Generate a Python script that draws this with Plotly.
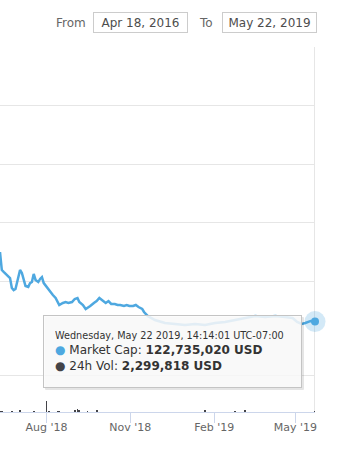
import datetime as dt
import plotly.graph_objects as go

# ---------------- data ----------------
dates = [
    "2018-06-11", "2018-06-12", "2018-06-13", "2018-06-15", "2018-06-17", "2018-06-20",
    "2018-06-22", "2018-06-24", "2018-06-26", "2018-06-28", "2018-07-01", "2018-07-03",
    "2018-07-05", "2018-07-07", "2018-07-09", "2018-07-12", "2018-07-14", "2018-07-16",
    "2018-07-18", "2018-07-20", "2018-07-23", "2018-07-25", "2018-07-27", "2018-07-29",
    "2018-08-01", "2018-08-04", "2018-08-08", "2018-08-11", "2018-08-13", "2018-08-15",
    "2018-08-19", "2018-08-22", "2018-08-25", "2018-08-29", "2018-09-01", "2018-09-04",
    "2018-09-06", "2018-09-10", "2018-09-13", "2018-09-15", "2018-09-18", "2018-09-22",
    "2018-09-25", "2018-09-28", "2018-10-02", "2018-10-05", "2018-10-08", "2018-10-11",
    "2018-10-15", "2018-10-18", "2018-10-21", "2018-10-25", "2018-10-28", "2018-10-31",
    "2018-11-04", "2018-11-07", "2018-11-10", "2018-11-14", "2018-11-16", "2018-11-18",
    "2018-11-20", "2018-11-28", "2018-12-09", "2018-12-20", "2018-12-31", "2019-01-11",
    "2019-01-22", "2019-02-02", "2019-02-13", "2019-02-24", "2019-03-07", "2019-03-18",
    "2019-03-29", "2019-04-09", "2019-04-20", "2019-04-28", "2019-05-03", "2019-05-08",
    "2019-05-12", "2019-05-15", "2019-05-18", "2019-05-22 14:14:01",
]

# market cap, millions of USD
market_cap_musd = [
    598, 530, 475, 462, 448, 434,
    420, 352, 338, 345, 427, 475,
    455, 407, 366, 359, 386, 393,
    448, 407, 393, 414, 427, 386,
    359, 332, 304, 284, 256, 236,
    250, 256, 250, 256, 277, 284,
    256, 236, 209, 215, 229, 250,
    263, 284, 263, 250, 263, 243,
    243, 236, 236, 229, 236, 229,
    229, 236, 222, 209, 188, 174,
    161, 133, 113, 106, 99, 106,
    99, 113, 120, 133, 147, 161,
    154, 161, 154, 147, 120, 106,
    113, 120, 127, 122.735020,
]

# 24h volume, millions of USD
volume_musd = [
    1.5, 1.0, 3.0, 0.8, 0.6, 0.5,
    0.8, 1.5, 0.6, 0.5, 0.8, 8.0,
    0.6, 0.5, 0.6, 0.5, 0.6, 0.8,
    1.5, 0.6, 0.5, 0.6, 0.8, 0.6,
    33.0, 5.5, 0.8, 0.6, 5.5, 4.0,
    0.6, 0.5, 0.6, 0.6, 7.0, 10.0,
    6.0, 0.6, 0.5, 4.5, 0.6, 0.6,
    7.0, 0.6, 0.5, 0.4, 0.5, 0.4,
    0.4, 0.4, 0.4, 0.4, 0.4, 0.4,
    0.4, 0.4, 0.4, 0.4, 0.5, 0.4,
    0.4, 0.4, 0.4, 0.4, 0.4, 0.4,
    7.0, 0.5, 0.5, 4.0, 7.0, 0.5,
    0.5, 0.5, 0.5, 0.5, 0.5, 0.5,
    0.5, 0.5, 0.5, 2.299818,
]

tick_dates = ["2018-08-01", "2018-11-01", "2019-02-01", "2019-05-01"]
tick_labels = ["Aug '18", "Nov '18", "Feb '19", "May '19"]
range_from_text = "Apr 18, 2016"
range_to_text = "May 22, 2019"
view_start = "2018-06-11"
mcap_ticks = [0, 400, 800, 1200, 1600, 2000]
vol_ticks = [100, 200]

# ---------------- styling / layout ----------------
W, H = 358, 456
ML, MR, MT, MB = 0, 43, 47, 44
PW, PH = W - ML - MR, H - MT - MB


def px(x):
    return (x - ML) / PW


def py(y):
    return (H - MB - y) / PH


FONT = "DejaVu Sans"
BLUE = "#4ea8e0"
DARK = "#434348"

fig = go.Figure()

fig.add_trace(go.Bar(
    x=dates, y=volume_musd, yaxis="y2", marker=dict(color=DARK, line=dict(width=0)),
    width=86400000 * 0.9, hoverinfo="skip", showlegend=False,
))
fig.add_trace(go.Scatter(
    x=dates, y=market_cap_musd, mode="lines", line=dict(color=BLUE, width=2.5),
    hoverinfo="skip", showlegend=False,
))
fig.add_trace(go.Scatter(
    x=[dates[-1]], y=[market_cap_musd[-1]], mode="markers",
    marker=dict(size=21, color="rgba(78,168,224,0.25)"), cliponaxis=False,
    hoverinfo="skip", showlegend=False,
))
fig.add_trace(go.Scatter(
    x=[dates[-1]], y=[market_cap_musd[-1]], mode="markers",
    marker=dict(size=8, color=BLUE), cliponaxis=False,
    hoverinfo="skip", showlegend=False,
))

split = py(339.5)
fig.update_layout(
    width=W, height=H, margin=dict(l=ML, r=MR, t=MT, b=MB),
    paper_bgcolor="white", plot_bgcolor="white",
    font=dict(family=FONT, size=12, color="#333333"),
    bargap=0,
    xaxis=dict(
        type="date", range=[view_start, dates[-1]], anchor="y2",
        tickvals=tick_dates, ticktext=tick_labels,
        ticks="outside", ticklen=10, tickcolor="#ccd6eb", tickwidth=1,
        ticklabelstandoff=-5,
        showline=True, linecolor="#ccd6eb", linewidth=1,
        showgrid=False, zeroline=False,
        tickfont=dict(size=11, color="#666666", family=FONT),
    ),
    yaxis=dict(
        domain=[split, 1], range=[mcap_ticks[0], mcap_ticks[-1]], tickvals=mcap_ticks,
        showticklabels=False, gridcolor="#e6e6e6", gridwidth=1, zeroline=False,
        anchor="x",
    ),
    yaxis2=dict(
        domain=[0, split], range=[0, vol_ticks[-1]], tickvals=vol_ticks,
        showticklabels=False, gridcolor="#e6e6e6", gridwidth=1, zeroline=False,
        anchor="x",
    ),
)

# crosshair at hovered point
fig.add_shape(type="line", xref="x", yref="paper", x0=dates[-1], x1=dates[-1],
              y0=0, y1=1, line=dict(color="#cccccc", width=1), layer="between")

# range input boxes
fig.add_annotation(xref="paper", yref="paper", x=px(71), y=py(22.5), text="From",
                   showarrow=False, xanchor="center", yanchor="middle",
                   font=dict(size=12, color="#666666"))
fig.add_annotation(xref="paper", yref="paper", x=px(140.5), y=py(22.5), text=range_from_text,
                   showarrow=False, xanchor="center", yanchor="middle",
                   width=93, height=19, borderpad=0, bordercolor="#cccccc", borderwidth=1,
                   font=dict(size=12, color="#4d4d4d"))
fig.add_annotation(xref="paper", yref="paper", x=px(206), y=py(22.5), text="To",
                   showarrow=False, xanchor="center", yanchor="middle",
                   font=dict(size=12, color="#666666"))
fig.add_annotation(xref="paper", yref="paper", x=px(269), y=py(22.5), text=range_to_text,
                   showarrow=False, xanchor="center", yanchor="middle",
                   width=93, height=19, borderpad=0, bordercolor="#cccccc", borderwidth=1,
                   font=dict(size=12, color="#4d4d4d"))

# tooltip
last_dt = dt.datetime.strptime(dates[-1], "%Y-%m-%d %H:%M:%S")
header = last_dt.strftime("%A, %b %d %Y, %H:%M:%S") + " UTC-07:00"
mc_val = round(market_cap_musd[-1] * 1e6)
vol_val = round(volume_musd[-1] * 1e6)
tip = (
    f"<span style='font-size:9.7px'>{header}</span><br>"
    f"<span style='color:{BLUE}'>●</span> Market Cap: <b>{mc_val:,} USD</b><br>"
    f"<span style='color:{DARK}'>●</span> 24h Vol: <b>{vol_val:,} USD</b>"
)
box_l, box_r, box_t, box_b = 43, 302, 315, 388
pad = 11
fig.add_annotation(xref="paper", yref="paper", x=px(box_l + 1.5), y=py(box_t + 2),
                   text="", showarrow=False, xanchor="left", yanchor="top",
                   width=box_r - box_l - 2, height=box_b - box_t - 2, borderpad=0,
                   bgcolor="rgba(0,0,0,0.10)", borderwidth=1, bordercolor="rgba(0,0,0,0.05)")
fig.add_annotation(xref="paper", yref="paper", x=px(box_l), y=py(box_t),
                   text=tip, showarrow=False, xanchor="left", yanchor="top", align="left",
                   valign="middle",
                   width=box_r - box_l - 2 * pad - 2, height=box_b - box_t - 2 * pad - 2,
                   borderpad=pad, bgcolor="rgba(252,252,252,0.86)",
                   bordercolor="#c4c4c4", borderwidth=1,
                   font=dict(size=12, color="#333333"))

fig.write_html("out.html", config={"displayModeBar": False},
               post_script="document.body.style.margin='0';")
